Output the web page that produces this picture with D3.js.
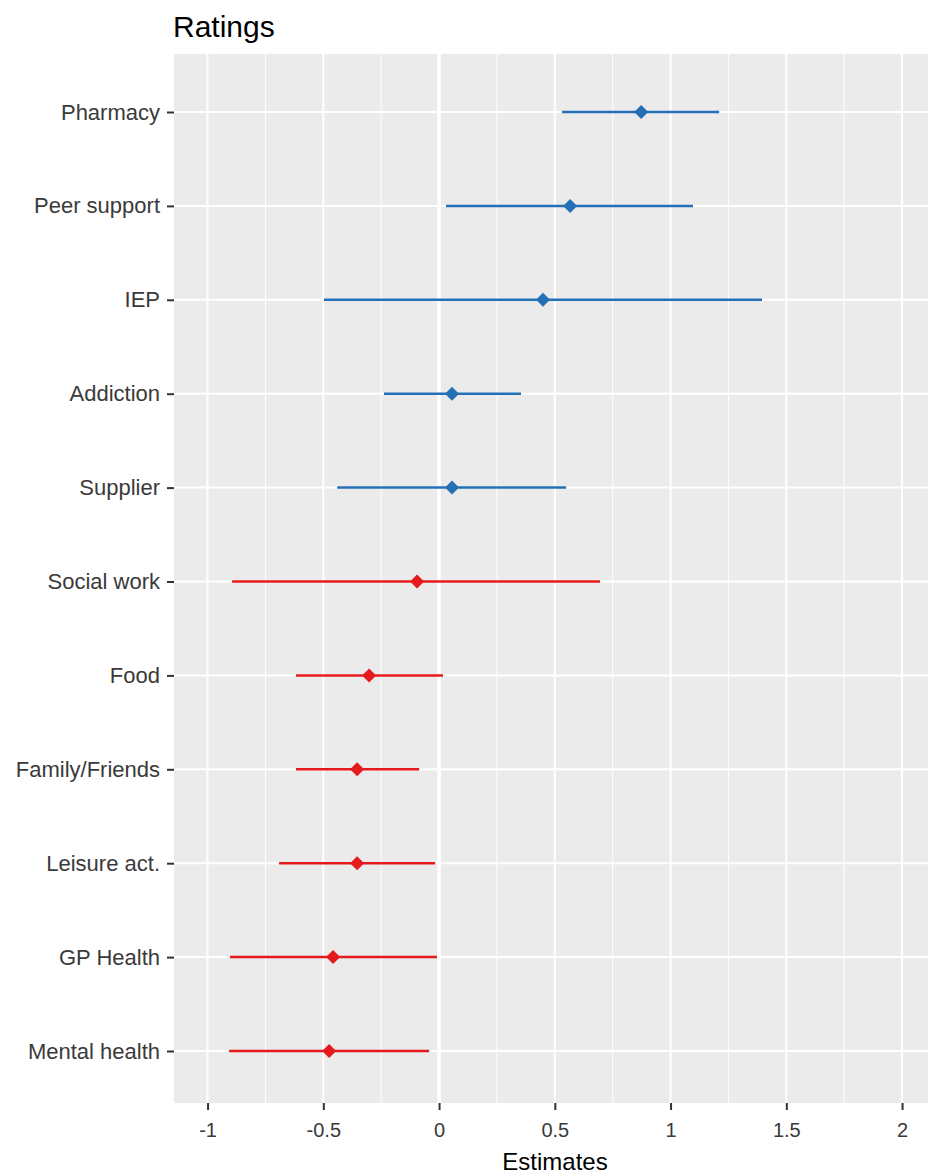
<!DOCTYPE html>
<html lang="en">
<head>
  <meta charset="UTF-8">
  <title>Ratings</title>
  <style>
    body {
      margin: 0;
      padding: 0;
      background-color: #ffffff;
      font-family: "Liberation Sans", Arial, sans-serif;
    }
    svg {
      display: block;
    }
  </style>
</head>
<body>
<div id="chart"></div>
<script src="https://d3js.org/d3.v7.min.js"></script>
<script>
  // values
  const categories = ["Pharmacy", "Peer support", "IEP", "Addiction", "Supplier", "Social work",
    "Food", "Family/Friends", "Leisure act.", "GP Health", "Mental health"];
  const estimates = [0.873, 0.566, 0.449, 0.056, 0.056, -0.095, -0.302, -0.354, -0.354, -0.458, -0.475];
  const lower = [0.531, 0.030, -0.497, -0.238, -0.440, -0.894, -0.618, -0.618, -0.691, -0.903, -0.907];
  const upper = [1.210, 1.097, 1.395, 0.354, 0.549, 0.695, 0.017, -0.086, -0.017, -0.009, -0.043];
  const xTicks = [-1, -0.5, 0, 0.5, 1, 1.5, 2];
  const xMinor = [-0.75, -0.25, 0.25, 0.75, 1.25, 1.75];

  const width = 928;
  const height = 1174;
  const panel = { left: 174, right: 928, top: 54, bottom: 1103 };

  const svg = d3.select("#chart").append("svg")
          .attr("width", width)
          .attr("height", height);

  const x = d3.scaleLinear().domain([-1.145, 2.112]).range([panel.left, panel.right]);
  const y = d3.scalePoint().domain(categories).range([112, 1051]);

  const rows = categories.map((c, i) => ({ name: c, est: estimates[i], lo: lower[i], hi: upper[i] }));

  // panel background
  svg.append("rect")
          .attr("x", panel.left)
          .attr("y", panel.top)
          .attr("width", panel.right - panel.left)
          .attr("height", panel.bottom - panel.top)
          .attr("fill", "#ebebeb");

  const grid = svg.append("g");
  grid.selectAll(".minor").data(xMinor).enter().append("line")
          .attr("x1", d => x(d)).attr("x2", d => x(d))
          .attr("y1", panel.top).attr("y2", panel.bottom)
          .attr("stroke", "#fff").attr("stroke-width", 1);
  grid.selectAll(".major").data(xTicks).enter().append("line")
          .attr("x1", d => x(d)).attr("x2", d => x(d))
          .attr("y1", panel.top).attr("y2", panel.bottom)
          .attr("stroke", "#fff").attr("stroke-width", 2);
  grid.selectAll(".hmajor").data(categories).enter().append("line")
          .attr("x1", panel.left).attr("x2", panel.right)
          .attr("y1", d => y(d)).attr("y2", d => y(d))
          .attr("stroke", "#fff").attr("stroke-width", 2);
  // reference line at zero
  grid.append("line")
          .attr("x1", x(0)).attr("x2", x(0))
          .attr("y1", panel.top).attr("y2", panel.bottom)
          .attr("stroke", "#fff").attr("stroke-width", 3.5);

  // axes
  const xAxis = svg.append("g")
          .attr("transform", `translate(0,${panel.bottom})`)
          .call(d3.axisBottom(x).tickValues(xTicks).tickSize(7).tickPadding(13).tickFormat(d => String(d)));
  const yAxis = svg.append("g")
          .attr("transform", `translate(${panel.left},0)`)
          .call(d3.axisLeft(y).tickSize(7).tickPadding(7));
  [xAxis, yAxis].forEach(a => {
    a.select(".domain").remove();
    a.selectAll(".tick line").attr("stroke", "#333").attr("stroke-width", 2);
    a.selectAll(".tick text")
            .attr("fill", "#3a3a3a")
            .style("font-family", "'Liberation Sans', Arial, sans-serif")
            .style("font-size", "20px");
  });
  yAxis.selectAll(".tick text").style("font-size", "22px");

  const colour = d => d.est >= 0 ? "#2470b6" : "#e41a1c";

  // error bars
  svg.append("g").selectAll("line").data(rows).enter().append("line")
          .attr("x1", d => x(d.lo)).attr("x2", d => x(d.hi))
          .attr("y1", d => y(d.name)).attr("y2", d => y(d.name))
          .attr("stroke", colour).attr("stroke-width", 2.5);

  // diamonds
  svg.append("g").selectAll("path").data(rows).enter().append("path")
          .attr("d", "M0,-7L7,0L0,7L-7,0Z")
          .attr("transform", d => `translate(${x(d.est)},${y(d.name)})`)
          .attr("fill", colour);

  // titles
  svg.append("text")
          .attr("x", 173).attr("y", 37)
          .attr("fill", "#000")
          .style("font-size", "30px")
          .text("Ratings");
  svg.append("text")
          .attr("x", (panel.left + panel.right) / 2 + 4).attr("y", 1170)
          .attr("text-anchor", "middle")
          .attr("fill", "#000")
          .style("font-size", "24px")
          .text("Estimates");
</script>
</body>
</html>
